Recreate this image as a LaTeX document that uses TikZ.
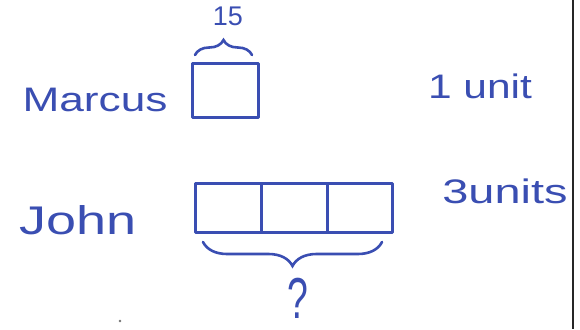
\documentclass[tikz,border=0pt]{standalone}
\usepackage{fontspec}
\setmainfont{Liberation Sans}
\usetikzlibrary{decorations.pathreplacing,calc}
\definecolor{pen}{RGB}{58,78,178}
\tikzset{
  hand/.style={text=pen, inner sep=0pt, anchor=center},
  penline/.style={draw=pen, line width=3pt, line join=round},
  bar/.style={penline, inner sep=0pt, outer sep=0pt},
  curly/.style={draw=pen, line width=2.6pt, line cap=round, decorate,
    decoration={brace, amplitude=#1}},
}
\begin{document}
\begin{tikzpicture}[x=1pt,y=-1pt]
\useasboundingbox[fill=white] (0,0) rectangle (580,329);
% margin line on the right
\coordinate (rt) at (573,0);
\coordinate (rb) at (573,329);
\draw[line width=1.8pt, black!85] (rt) -- (rb);

% labels
\node[hand] (marcus) at (95,100) {\fontsize{34}{40}\selectfont\scalebox{1.3}[1]{Marcus}};
\node[hand] (john) at (78,220) {\fontsize{40}{46}\selectfont\scalebox{1.35}[1]{John}};
\node[hand] (oneunit) at (480,86) {\fontsize{34}{40}\selectfont\scalebox{1.25}[1]{1 unit}};
\node[hand] (threeunits) at (505,191) {\fontsize{34}{40}\selectfont\scalebox{1.38}[1]{3units}};

% Marcus bar
\node[bar, minimum width=66pt, minimum height=54pt] (mbox) at (225,90) {};
\draw[curly=15pt] ([xshift=3pt,yshift=8pt]mbox.north west) -- ([xshift=-6pt,yshift=8pt]mbox.north east);
\node[hand] (fifteen) at (228,16) {\fontsize{27}{30}\selectfont 15};

% John bar
\node[bar, minimum width=197pt, minimum height=49pt] (jbox) at (293.5,207.5) {};
\draw[penline] ($(jbox.north west)!0.34!(jbox.north east)$) -- ($(jbox.south west)!0.34!(jbox.south east)$);
\draw[penline] ($(jbox.north west)!0.675!(jbox.north east)$) -- ($(jbox.south west)!0.675!(jbox.south east)$);
\draw[curly=24pt] ([xshift=-10pt,yshift=-10pt]jbox.south east) -- ([xshift=8pt,yshift=-10pt]jbox.south west);
\node[hand] (question) at (298,298) {\fontsize{34}{40}\selectfont\scalebox{1.1}[1.7]{?}};

% stray pen dot
\fill[black!55] (120,321) circle (1.3pt);
\end{tikzpicture}
\end{document}
